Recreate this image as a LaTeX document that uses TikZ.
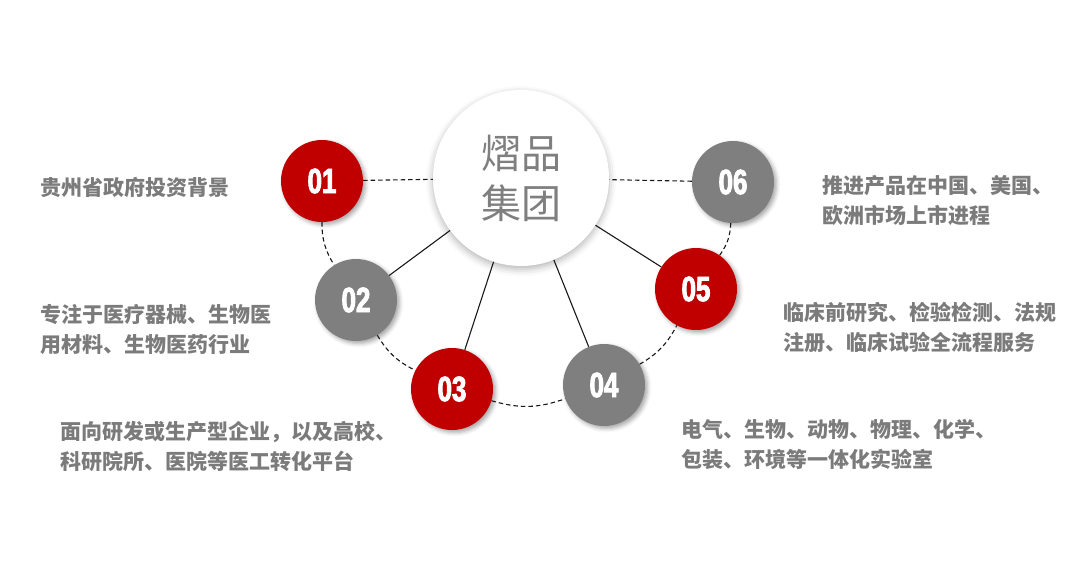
\documentclass[tikz,border=0pt]{standalone}
\usepackage{fontspec}
\setmainfont{Liberation Sans}
\newfontfamily\cjk{Noto Sans CJK SC}
\newfontfamily\numfont{Liberation Sans}[UprightFont=* Bold, FakeStretch=0.74, FakeBold=2.5]
\usetikzlibrary{shadows.blur}
\definecolor{hongse}{HTML}{C00000}
\definecolor{huise}{HTML}{7F7F7F}
\definecolor{wenzi}{HTML}{7B7B7B}
\newcommand\hao[1]{{\numfont #1}}
\tikzset{
  ball/.style={circle, fill=#1, minimum size=82pt, inner sep=0pt, text=white,
    font=\fontsize{35}{35}\selectfont,
    blur shadow={shadow xshift=2.5pt, shadow yshift=-2.5pt, shadow blur radius=4pt, shadow opacity=35}},
  hub/.style={circle, fill=white, minimum size=176pt, inner sep=0pt, text=huise, align=center,
    font=\cjk\fontsize{40}{50}\selectfont,
    blur shadow={shadow xshift=0pt, shadow yshift=-3pt, shadow blur radius=7pt, shadow opacity=30}},
  link/.style={draw=black!90, line width=1.1pt},
  ring/.style={link, dash pattern=on 4.5pt off 3pt},
  desc/.style={anchor=west, align=left, inner sep=0pt, text=wenzi,
    font=\cjk\bfseries\fontsize{21}{30}\selectfont},
}

\begin{document}
\begin{tikzpicture}[x=1pt, y=-1pt]
    \useasboundingbox (0,0) rectangle (1078,568);
    % centre and numbered circles
    \node[hub] (hub) at (521,178) {熠品\\集团};
    \node[ball=hongse] (n1) at (322,181) {\hao{01}};
    \node[ball=huise] (n2) at (356,300) {\hao{02}};
    \node[ball=hongse] (n3) at (452,389) {\hao{03}};
    \node[ball=huise] (n4) at (604,385) {\hao{04}};
    \node[ball=hongse] (n5) at (696,289) {\hao{05}};
    \node[ball=huise] (n6) at (733,182) {\hao{06}};
    % connectors
    \draw[ring] (n1) -- (hub);
    \draw[ring] (n6) -- (hub);
    \draw[link] (hub) -- (n2);
    \draw[link] (hub) -- (n3);
    \draw[link] (hub) -- (n4);
    \draw[link] (hub) -- (n5);
    \draw[ring] (n1) to[bend right=16] (n2);
    \draw[ring] (n2) to[bend right=16] (n3);
    \draw[ring] (n3) to[bend right=18] (n4);
    \draw[ring] (n4) to[bend right=16] (n5);
    \draw[ring] (n5) to[bend right=16] (n6);
    % descriptions
    \node[desc] (t1) at (40,187) {贵州省政府投资背景};
    \node[desc] (t2) at (40,329) {专注于医疗器械、生物医\\用材料、生物医药行业};
    \node[desc] (t3) at (60,446) {面向研发或生产型企业，以及高校、\\科研院所、医院等医工转化平台};
    \node[desc] (t4) at (681,445) {电气、生物、动物、物理、化学、\\包装、环境等一体化实验室};
    \node[desc] (t5) at (783,327) {临床前研究、检验检测、法规\\注册、临床试验全流程服务};
    \node[desc] (t6) at (822,201) {推进产品在中国、美国、\\欧洲市场上市进程};
  \end{tikzpicture}
\end{document}
